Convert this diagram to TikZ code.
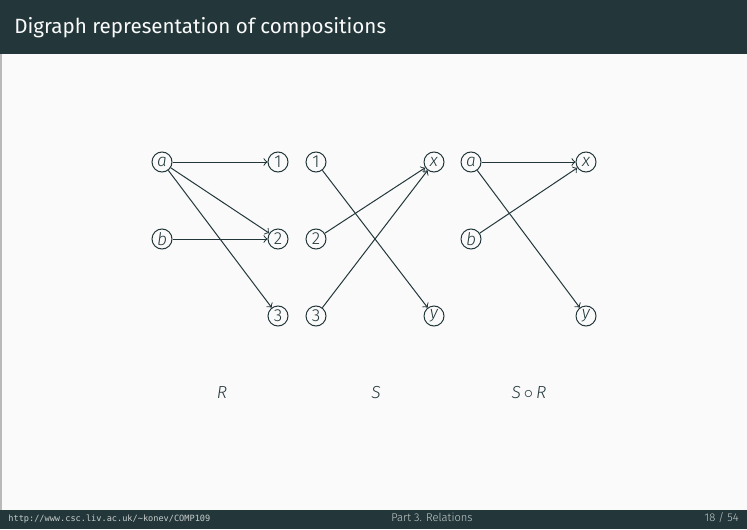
\documentclass[tikz,border=0pt]{standalone}
\usepackage{fontspec}
\setmainfont{Fira Sans}[UprightFont={* Light}, ItalicFont={* Light Italic}, BoldFont={*}]
\newfontfamily\titlefont{Fira Sans}
\setmonofont{DejaVu Sans Mono}
\definecolor{mDarkTeal}{HTML}{23373B}
\definecolor{mBg}{HTML}{FAFAFA}
\definecolor{mFoot}{HTML}{C8CDCD}

\begin{document}
\begin{tikzpicture}[x=0.5pt, y=-0.5pt,
  vertex/.style={circle, draw=mDarkTeal, line width=0.5pt, minimum size=10pt, inner sep=0pt,
    text=mDarkTeal, font=\fontsize{8.7}{10}\selectfont},
  arc/.style={->, draw=mDarkTeal, line width=0.5pt},
  caption/.style={text=mDarkTeal, font=\fontsize{8.7}{10}\selectfont}]

  % Fondo de la diapositiva, barra de titulo y pie
  \useasboundingbox (0,0) rectangle (747,529);
  \fill[mBg] (0,0) rectangle (747,529);
  \fill[mDarkTeal] (0,0) rectangle (747,54);
  \fill[mDarkTeal] (0,510) rectangle (747,529);
  \fill[gray!55] (0,54) rectangle (1.5,510);

  % Titulo
  \node[anchor=base west, inner sep=0pt, text=mBg, font=\titlefont\fontsize{10.3}{12}\selectfont]
    (title) at (14,34) {Digraph representation of compositions};

  % Relacion R
  \foreach \n/\x/\y/\t in {Ra/162/162/\textit{a}, Rb/162/239/\textit{b},
                           R1/278/162/1, R2/278/239/2, R3/278/316/3} {
    \node[vertex] (\n) at (\x,\y) {\t};
  }

  % Relacion S
  \foreach \n/\x/\y/\t in {S1/316/162/1, S2/316/239/2, S3/316/316/3,
                           Sx/434/162/\textit{x}, Sy/434/316/\textit{y}} {
    \node[vertex] (\n) at (\x,\y) {\t};
  }

  % Composicion S o R
  \foreach \n/\x/\y/\t in {Ca/471/162/\textit{a}, Cb/471/239/\textit{b},
                           Cx/586/162/\textit{x}, Cy/586/316/\textit{y}} {
    \node[vertex] (\n) at (\x,\y) {\t};
  }

  % Arcos
  \foreach \s/\e in {Ra/R1, Ra/R2, Ra/R3, Rb/R2,
                     S1/Sy, S2/Sx, S3/Sx,
                     Ca/Cx, Ca/Cy, Cb/Cx} {
    \draw[arc] (\s) -- (\e);
  }

  % Nombres de las relaciones
  \node[caption] (capR) at (222,393) {\textit{R}};
  \node[caption] (capS) at (376,393) {\textit{S}};
  \node[caption] (capC) at (529,393) {\textit{S}\,$\circ$\,\textit{R}};

  % Pie de pagina
  \node[anchor=base west, inner sep=0pt, text=mFoot, font=\ttfamily\fontsize{4.3}{5}\selectfont]
    (url) at (8,521) {http://www.csc.liv.ac.uk/\string~konev/COMP109};
  \node[anchor=base, inner sep=0pt, text=mFoot, font=\fontsize{5.6}{6}\selectfont]
    (part) at (432,521) {Part 3. Relations};
  \node[anchor=base east, inner sep=0pt, text=mFoot, font=\fontsize{5.6}{6}\selectfont]
    (page) at (739,521) {18 / 54};

\end{tikzpicture}
\end{document}
